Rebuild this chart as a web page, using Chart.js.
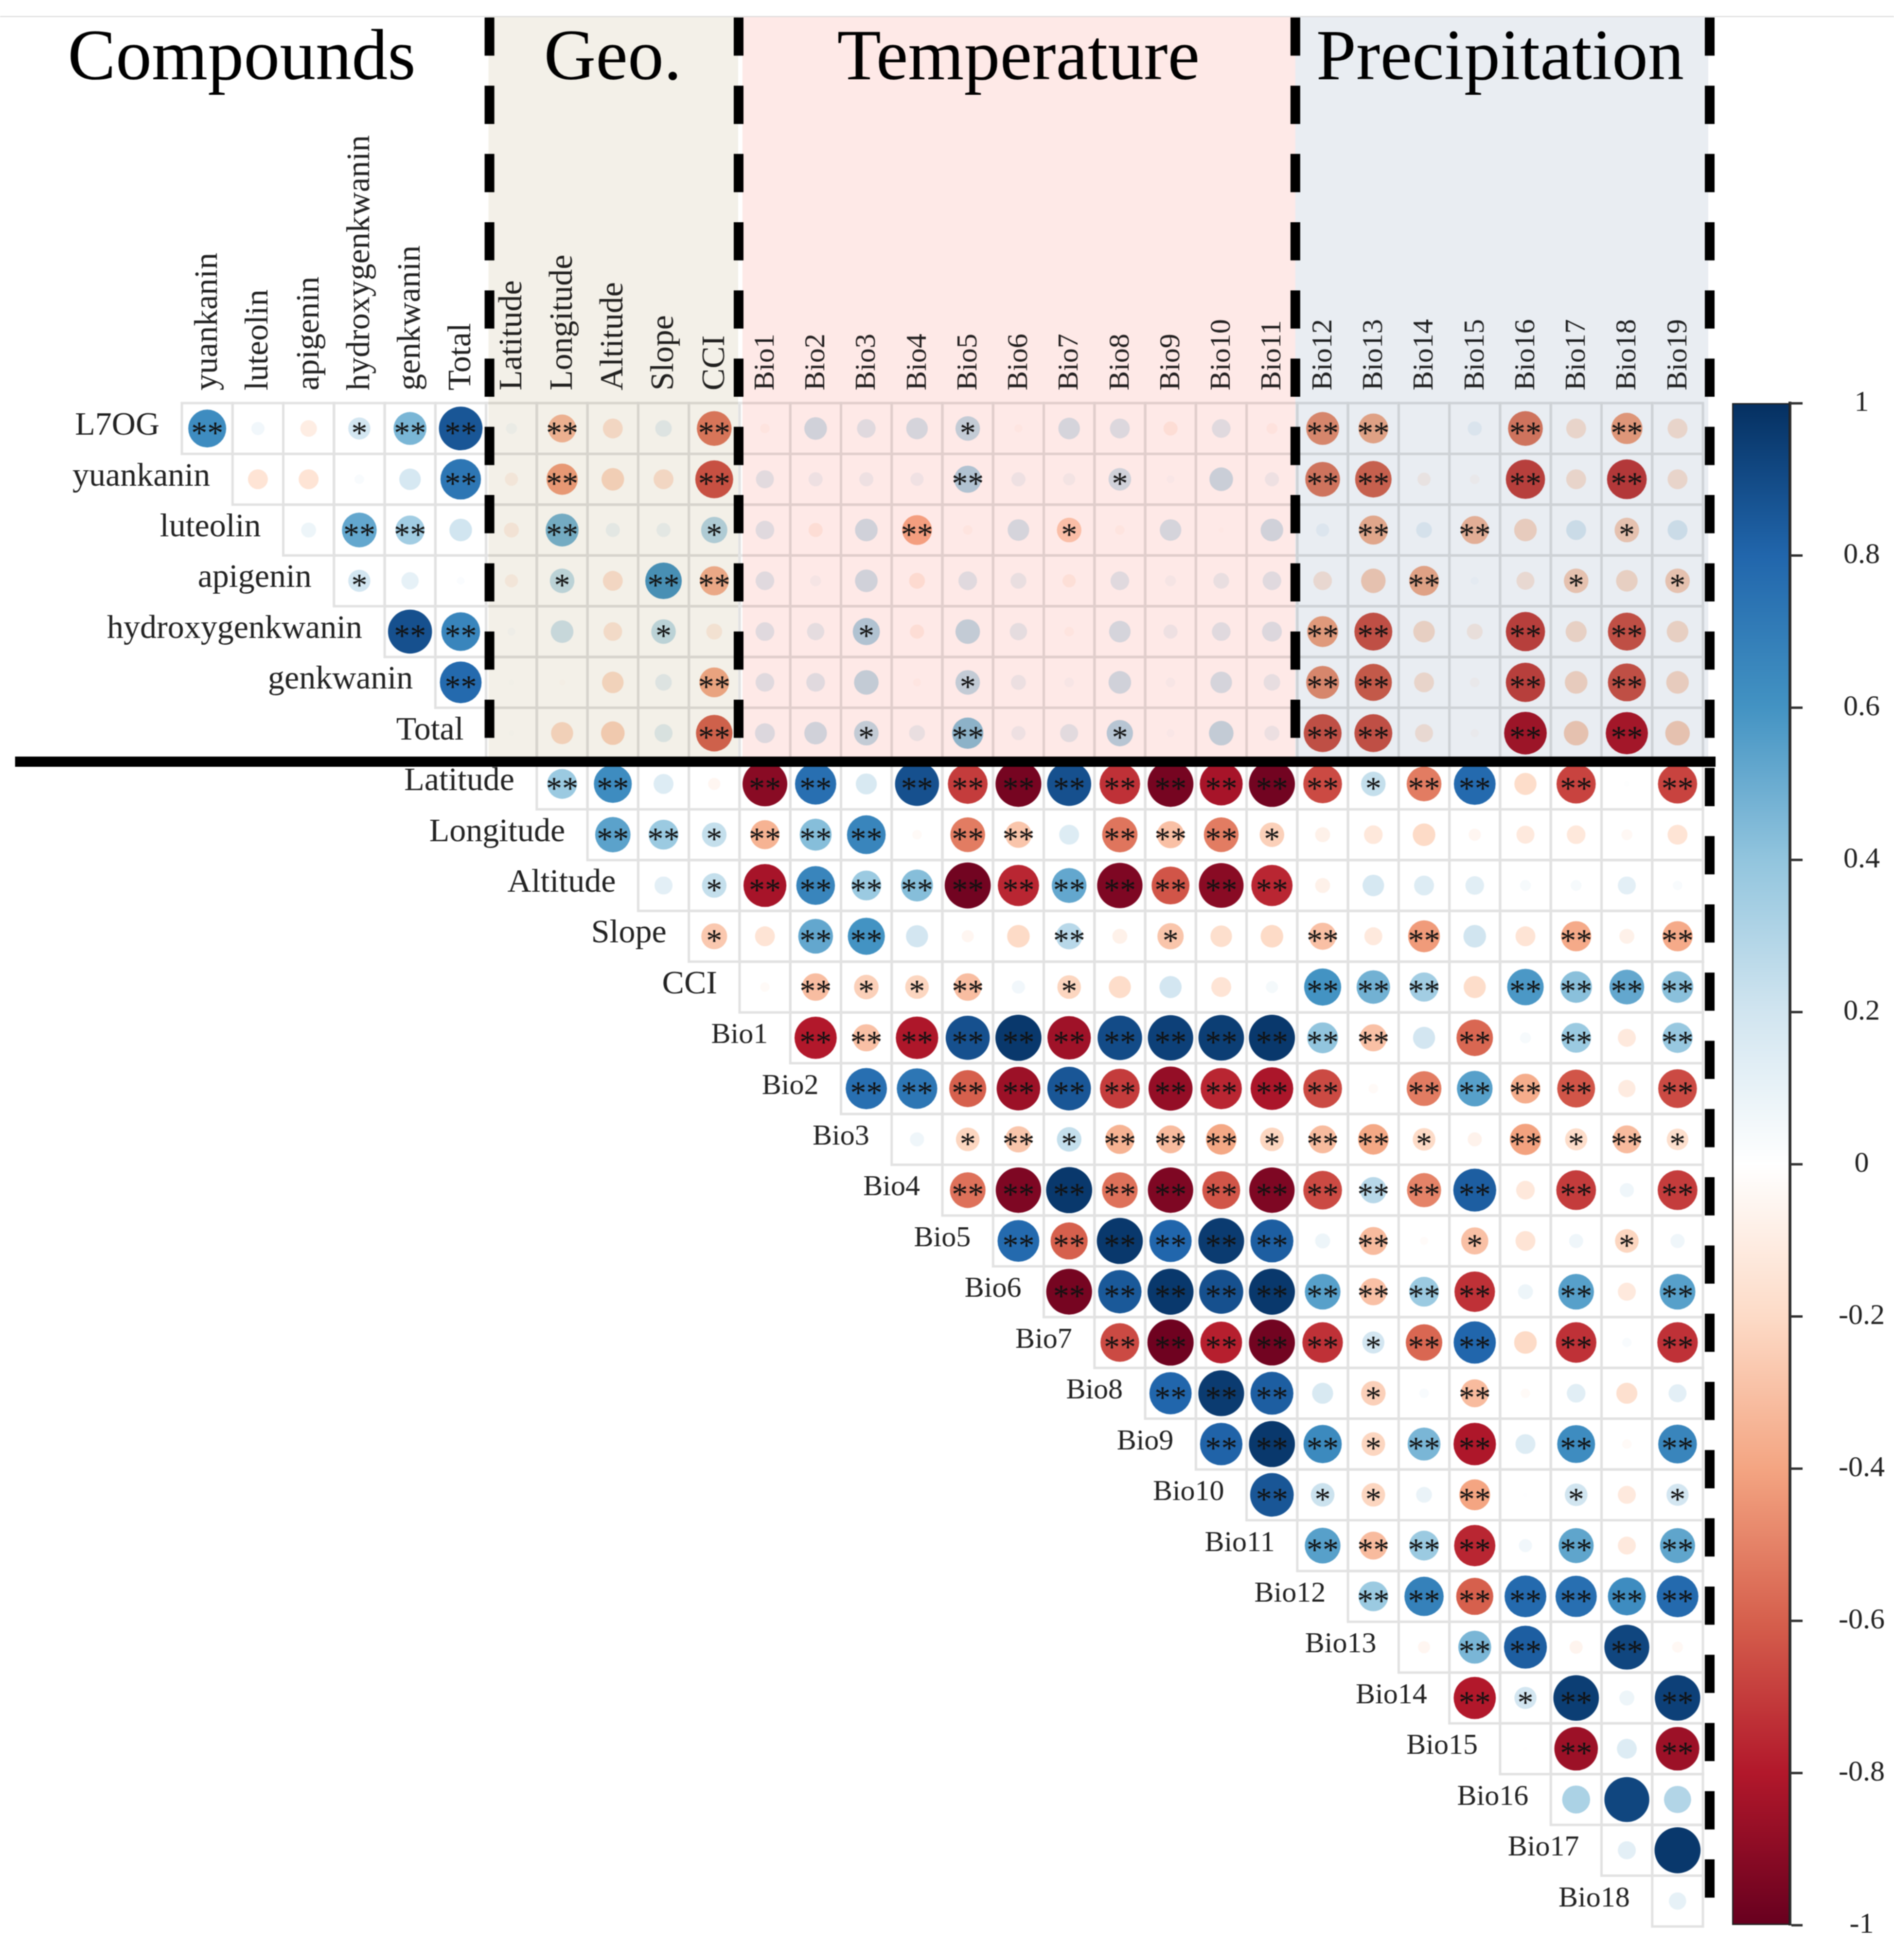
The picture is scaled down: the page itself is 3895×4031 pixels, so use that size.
<!DOCTYPE html>
<html>
<head>
<meta charset="utf-8">
<title>Correlation matrix</title>
<script src="https://cdn.jsdelivr.net/npm/chart.js@4"></script>
<style>
  html, body { margin: 0; padding: 0; background: #fff; height: 4031px; overflow: hidden; }
  canvas { position: absolute; left: 0; top: 0; filter: blur(1.2px); }
</style>
</head>
<body>
<canvas id="matrix" width="3895" height="4031"></canvas>
<canvas id="colorbar" width="3895" height="4069"></canvas>
<script>
const colLabels = ['yuankanin', 'luteolin', 'apigenin', 'hydroxygenkwanin', 'genkwanin', 'Total',
    'Latitude', 'Longitude', 'Altitude', 'Slope', 'CCI',
    'Bio1', 'Bio2', 'Bio3', 'Bio4', 'Bio5', 'Bio6', 'Bio7', 'Bio8', 'Bio9', 'Bio10', 'Bio11',
    'Bio12', 'Bio13', 'Bio14', 'Bio15', 'Bio16', 'Bio17', 'Bio18', 'Bio19'];
const rowLabels = ['L7OG', 'yuankanin', 'luteolin', 'apigenin', 'hydroxygenkwanin', 'genkwanin', 'Total',
    'Latitude', 'Longitude', 'Altitude', 'Slope', 'CCI',
    'Bio1', 'Bio2', 'Bio3', 'Bio4', 'Bio5', 'Bio6', 'Bio7', 'Bio8', 'Bio9', 'Bio10', 'Bio11',
    'Bio12', 'Bio13', 'Bio14', 'Bio15', 'Bio16', 'Bio17', 'Bio18'];

// one list per row, first value is the cell on the diagonal of the triangle
const valL7OG = [.63, .06, -.1, .19, .46, .86, .04, -.32, -.15, .1, -.52, -.03, .2, .13, .18, .24, -.02, .18, .15, -.07, .13, -.04, -.46, -.37, 0, .07, -.52, -.15, -.41, -.15];
const valYuankanin = [-.15, -.15, .03, .18, .73, -.06, -.41, -.2, -.15, -.63, .12, .07, .07, .06, .3, .07, .05, .2, .02, .22, .07, -.52, -.58, -.06, -.03, -.68, -.15, -.7, -.15];
const valLuteolin = [.08, .52, .35, .2, -.08, .46, .07, .07, .28, .13, -.07, .2, -.37, -.03, .18, -.24, -.03, .18, -.01, .2, .06, -.35, .09, -.32, -.2, .15, -.24, .15];
const valApigenin = [.19, .11, .02, -.06, .24, -.15, .58, -.35, .13, .04, .2, -.09, .13, .09, -.06, .13, .04, .09, .13, -.13, -.24, -.37, .02, -.12, -.24, -.18, -.24];
const valHydroxy = [.88, .66, .02, .2, -.13, .24, -.09, .13, .11, .3, -.07, .24, .11, -.03, .18, .07, .13, .15, -.4, -.63, -.18, -.09, -.68, -.17, -.63, -.18];
const valGenkwanin = [.78, .01, -.01, -.18, .1, -.37, .13, .13, .24, -.02, .24, .08, .03, .2, .03, .18, .1, -.46, -.6, -.15, -.03, -.68, -.2, -.63, -.2];
const valTotal = [.01, -.19, -.22, .12, -.58, .15, .2, .24, .09, .41, .07, .12, .28, .02, .24, .08, -.63, -.63, -.12, -.02, -.82, -.24, -.8, -.24];
const valLatitude = [.37, .63, .15, -.05, -.91, .76, .17, .88, -.7, -.96, .88, -.73, -.96, -.83, -.97, -.66, .24, -.52, .78, -.19, -.68, .01, -.68];
const valLongitude = [.54, .37, .24, -.35, .43, .66, -.03, -.52, -.28, .15, -.54, -.3, -.52, -.24, -.08, -.13, -.2, -.05, -.12, -.13, -.04, -.15];
const valAltitude = [.12, .24, -.83, .66, .37, .43, -.97, -.76, .52, -.94, -.63, -.91, -.76, -.08, .18, .15, .13, .04, .04, .12, .03];
const valSlope = [-.27, -.15, .52, .6, .19, -.05, -.2, .28, -.08, -.28, -.18, -.2, -.3, -.12, -.43, .2, -.15, -.38, -.08, -.38];
const valCCI = [-.03, -.31, -.24, -.22, -.31, .06, -.22, -.19, .19, -.15, .05, .6, .48, .35, -.19, .58, .42, .52, .42];
const valBio1 = [-.8, -.3, -.81, .88, .97, -.85, .9, .94, .95, .97, .4, -.3, .19, -.58, .04, .37, -.12, .38];
const valBio2 = [.76, .73, -.6, -.86, .86, -.7, -.88, -.76, -.82, -.66, -.03, -.52, .55, -.37, -.63, -.11, -.66];
const valBio3 = [.07, -.22, -.28, .24, -.35, -.32, -.39, -.22, -.32, -.39, -.2, -.07, -.41, -.19, -.32, -.18];
const valBio4 = [-.55, -.94, .97, -.55, -.94, -.63, -.94, -.66, .28, -.5, .83, -.13, -.7, .07, -.7];
const valBio5 = [.78, -.6, .97, .8, .96, .83, .08, -.32, -.02, -.3, -.15, .07, -.22, .07];
const valBio6 = [-.96, .85, .97, .88, .97, .55, -.3, .37, -.73, .08, .55, -.12, .55];
const valBio7 = [-.66, -.98, -.78, -.97, -.73, .19, -.58, .8, -.2, -.73, .03, -.73];
const valBio8 = [.8, .96, .83, .17, -.24, .03, -.32, -.03, .13, -.17, .12];
const valBio9 = [.81, .97, .64, -.22, .46, -.81, .15, .63, -.03, .66];
const valBio10 = [.86, .22, -.22, .09, -.4, .005, .2, -.12, .19];
const valBio11 = [.55, -.32, .37, -.76, .06, .53, -.12, .53];
const valBio12 = [.37, .68, -.6, .78, .76, .63, .78];
const valBio13 = [-.05, .46, .83, -.06, .92, -.04];
const valBio14 = [-.8, .19, .95, .08, .94];
const valBio15 = [-.005, -.86, .15, -.86];
const valBio16 = [.32, .92, .3];
const valBio17 = [.12, .97];
const valBio18 = [.11];

const rowValues = [valL7OG, valYuankanin, valLuteolin, valApigenin, valHydroxy, valGenkwanin, valTotal,
    valLatitude, valLongitude, valAltitude, valSlope, valCCI,
    valBio1, valBio2, valBio3, valBio4, valBio5, valBio6, valBio7, valBio8, valBio9, valBio10, valBio11,
    valBio12, valBio13, valBio14, valBio15, valBio16, valBio17, valBio18];

// number of stars per cell, same order as rowValues
const rowStars = [
    '200122' + '02002' + '00001000000' + '22002020',
    '00002' + '02002' + '00002001000' + '22002020',
    '0220' + '02001' + '00020010000' + '02020010',
    '100' + '01022' + '00000000000' + '00200101',
    '22' + '00010' + '00100000000' + '22002020',
    '2' + '00002' + '00001000000' + '22002020',
    '00002' + '00102001000' + '22002020',
    '2200' + '22022222222' + '21220202',
    '221' + '22202202221' + '00000000',
    '01' + '22222222222' + '00000000',
    '1' + '02200020100' + '20200202',
    '02112010000' + '22202222',
    '2222222222' + '22020202',
    '222222222' + '20222202',
    '01212221' + '22102121',
    '2222222' + '22220202',
    '222222' + '02010010',
    '22222' + '22220202',
    '2222' + '21220202',
    '222' + '01020000',
    '22' + '21220202',
    '2' + '11020101',
    '22220202',
    '2222222',
    '022020',
    '21202',
    '0202',
    '000',
    '00',
    '0'
];

const barTicks = [1, 0.8, 0.6, 0.4, 0.2, 0, -0.2, -0.4, -0.6, -0.8, -1];
const palette = ['#67001F', '#B2182B', '#D6604D', '#F4A582', '#FDDBC7', '#FFFFFF', '#D1E5F0', '#92C5DE', '#4393C3', '#2166AC', '#053061'];
const groupTitles = [['Compounds', 0.68], ['Geo.', 8], ['Temperature', 16], ['Precipitation', 25.5]];

const SERIF = '"Liberation Serif", serif';

const hexToRgb = (hex) => [1, 3, 5].map((i) => parseInt(hex.substr(i, 2), 16));

const colorFor = (v) => {
    const pos = (v + 1) * 5;
    const i = Math.min(9, Math.floor(pos));
    const t = pos - i;
    const a = hexToRgb(palette[i]);
    const b = hexToRgb(palette[i + 1]);
    const c = a.map((ch, k) => Math.round(ch + (b[k] - ch) * t));
    return `rgb(${c[0]},${c[1]},${c[2]})`;
};

const points = [];
rowValues.forEach((vals, r) => {
    vals.forEach((v, k) => {
        points.push({ x: r + k, y: r, v: v, stars: Number(rowStars[r][k]) });
    });
});

const decor = {
    id: 'decor',
    beforeDraw(chart) {
        const ctx = chart.ctx;
        ctx.save();
        ctx.fillStyle = '#fff';
        ctx.fillRect(0, 0, chart.width, chart.height);
        ctx.restore();
    },
    beforeDatasetsDraw(chart) {
        const { ctx, scales: { x, y } } = chart;
        ctx.save();
        ctx.strokeStyle = '#e2e2e2';
        ctx.lineWidth = 5;
        points.forEach((p) => {
            const x0 = x.getPixelForValue(p.x - 0.5);
            const y0 = y.getPixelForValue(p.y - 0.5);
            ctx.strokeRect(x0, y0, x.getPixelForValue(p.x + 0.5) - x0, y.getPixelForValue(p.y + 0.5) - y0);
        });
        ctx.restore();
    },
    afterDatasetsDraw(chart) {
        const { ctx, scales: { x, y } } = chart;
        const top = 34;
        const lineY = y.getPixelForValue(6.5) + 2;
        ctx.save();

        // the coloured groups tint whatever lies under them
        ctx.globalCompositeOperation = 'multiply';
        [[x.getPixelForValue(5.5) + 5, x.getPixelForValue(10.5) - 3, '#f3f0e8'],
         [x.getPixelForValue(10.5) + 6, x.getPixelForValue(21.5) - 4, '#fee9e7'],
         [x.getPixelForValue(21.5) - 4, x.getPixelForValue(29.5) + 11, '#e9edf2']].forEach(([a, b, c]) => {
            ctx.fillStyle = c;
            ctx.fillRect(a, top, b - a, lineY - top);
        });
        ctx.globalCompositeOperation = 'source-over';

        ctx.fillStyle = '#d9d9d9';
        ctx.fillRect(0, top - 1, chart.width, 2);

        // significance stars
        ctx.fillStyle = '#111';
        ctx.font = `66px ${SERIF}`;
        ctx.textAlign = 'center';
        ctx.textBaseline = 'alphabetic';
        const m = ctx.measureText('*');
        const starShift = (m.actualBoundingBoxAscent - m.actualBoundingBoxDescent) / 2;
        points.forEach((p) => {
            if (p.stars) {
                ctx.fillText('*'.repeat(p.stars), x.getPixelForValue(p.x), y.getPixelForValue(p.y) + starShift);
            }
        });

        // dashed separators
        ctx.strokeStyle = '#000';
        ctx.lineWidth = 20;
        ctx.setLineDash([78.6, 61.7]);
        [[x.getPixelForValue(5.5) + 7, 1518], [x.getPixelForValue(10.5) - 2, 1518],
         [x.getPixelForValue(21.5) - 4, 1518], [x.getPixelForValue(29.5) + 14, 3903]].forEach(([px, end]) => {
            ctx.beginPath();
            ctx.moveTo(px, 36);
            ctx.lineTo(px, end);
            ctx.stroke();
        });
        ctx.setLineDash([]);

        // heavy line under the compounds
        ctx.fillStyle = '#000';
        ctx.fillRect(31, 1556, 3497, 21);

        // row labels sit next to the first cell of the row
        ctx.fillStyle = '#222';
        ctx.textAlign = 'right';
        ctx.textBaseline = 'middle';
        rowLabels.forEach((label, r) => {
            ctx.font = `${label.startsWith('Bio') ? 60 : 68}px ${SERIF}`;
            ctx.fillText(label, x.getPixelForValue(r - 0.5) - 46, y.getPixelForValue(r) - 5);
        });

        // group titles
        ctx.fillStyle = '#000';
        ctx.textAlign = 'center';
        ctx.textBaseline = 'alphabetic';
        ctx.font = `148px ${SERIF}`;
        groupTitles.forEach(([text, col]) => {
            ctx.fillText(text, x.getPixelForValue(col), 163);
        });
        ctx.restore();
    }
};

new Chart(document.getElementById('matrix'), {
    type: 'scatter',
    data: {
        datasets: [{
            data: points,
            clip: false,
            pointRadius: (c) => (c.raw ? 48 * Math.pow(Math.abs(c.raw.v), 0.45) : 0),
            pointBackgroundColor: (c) => (c.raw ? colorFor(c.raw.v) : '#fff'),
            pointBorderWidth: 0
        }]
    },
    plugins: [decor],
    options: {
        responsive: false,
        animation: false,
        devicePixelRatio: 1,
        events: [],
        layout: { padding: { left: 374, right: 393, top: 0, bottom: 69 } },
        plugins: { legend: { display: false }, tooltip: { enabled: false } },
        scales: {
            x: {
                type: 'linear',
                position: 'top',
                min: -0.5,
                max: 29.5,
                afterBuildTicks: (s) => { s.ticks = colLabels.map((_, i) => ({ value: i })); },
                afterFit: (s) => { s.height = 829; },
                grid: { display: false },
                border: { display: false },
                ticks: {
                    autoSkip: false,
                    minRotation: 90,
                    maxRotation: 90,
                    padding: 18,
                    labelOffset: 72,
                    color: '#222',
                    font: (c) => ({ family: SERIF, lineHeight: '70px', size: colLabels[c.index] && colLabels[c.index].startsWith('Bio') ? 60 : 68 }),
                    callback: (v) => colLabels[v]
                }
            },
            y: {
                type: 'linear',
                display: false,
                reverse: true,
                min: -0.5,
                max: 29.5
            }
        }
    }
});

new Chart(document.getElementById('colorbar'), {
    type: 'bar',
    data: {
        labels: [''],
        datasets: [{
            data: [[-1, 1]],
            barPercentage: 1,
            categoryPercentage: 1,
            borderWidth: 3,
            borderColor: '#222',
            borderSkipped: false,
            backgroundColor: (c) => {
                const area = c.chart.chartArea;
                if (!area) return palette[5];
                const g = c.chart.ctx.createLinearGradient(0, area.bottom, 0, area.top);
                palette.forEach((col, i) => g.addColorStop(i / (palette.length - 1), col));
                return g;
            }
        }]
    },
    options: {
        responsive: false,
        animation: false,
        devicePixelRatio: 1,
        events: [],
        layout: { padding: { left: 3562, right: 0, top: 829, bottom: 0 } },
        plugins: { legend: { display: false }, tooltip: { enabled: false } },
        scales: {
            x: { display: false },
            y: {
                type: 'linear',
                position: 'right',
                min: -1,
                max: 1,
                afterBuildTicks: (s) => { s.ticks = barTicks.map((v) => ({ value: v })); },
                afterFit: (s) => { s.width = 214; },
                grid: { drawOnChartArea: false, tickLength: 26, tickColor: '#333', tickWidth: 5 },
                border: { display: true, color: '#333', width: 6 },
                ticks: {
                    autoSkip: false,
                    crossAlign: 'center',
                    padding: 74,
                    color: '#222',
                    font: { family: SERIF, size: 60 },
                    callback: (v) => String(v)
                }
            }
        }
    }
});
</script>
</body>
</html>
